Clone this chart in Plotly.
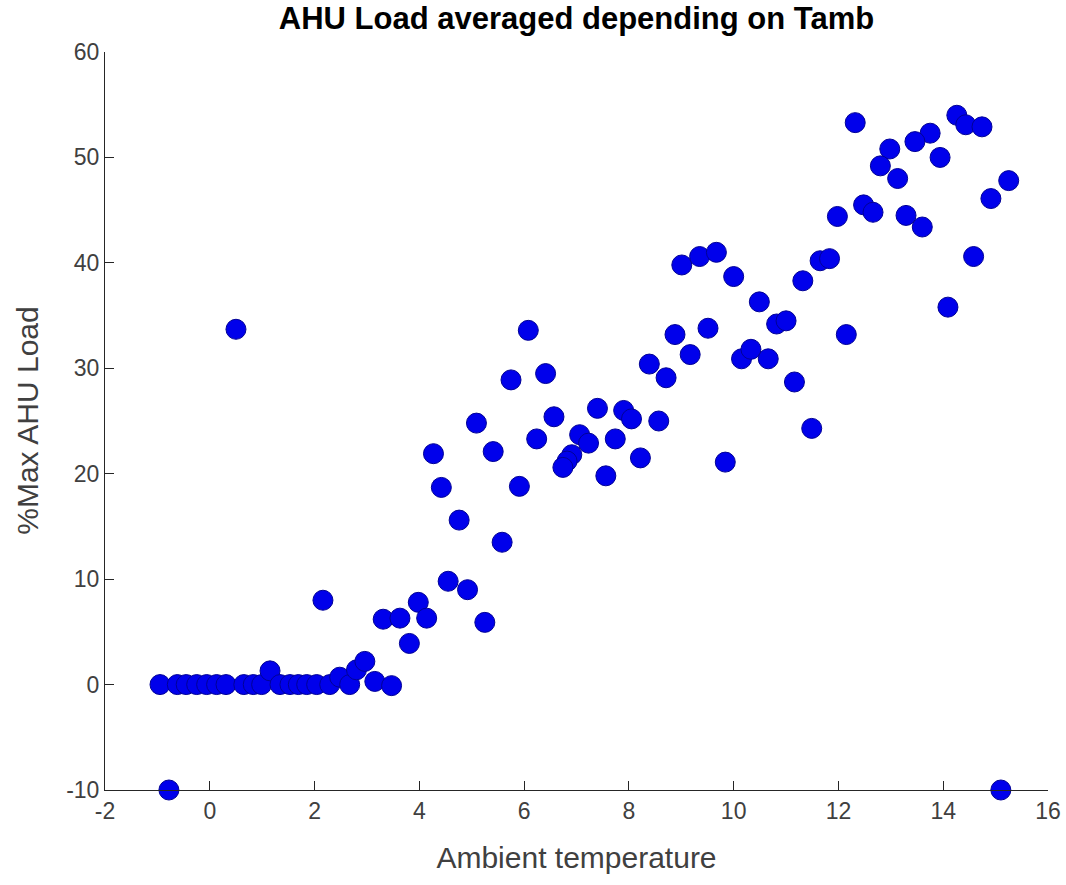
import plotly.graph_objects as go

# Ambient temperature (x) and %Max AHU load (y)
ambient_temp = [
    -0.95, -0.62, -0.45, -0.25, -0.06, 0.13, 0.31, 0.65, 0.83, 0.99,
    1.15, 1.34, 1.53, 1.69, 1.85, 2.04, 2.29, 2.48, 2.67, 2.80,
    2.96, 3.15, 3.47, 2.16, 3.31, 3.63, 3.98, 4.14, 3.81, 4.55,
    -0.78, 0.50, 15.10,
    6.08, 5.75, 6.41, 5.09, 6.57, 7.40, 7.90, 8.05, 8.57, 8.39,
    8.71, 8.88, 9.17, 9.51, 9.84, 4.27, 5.41, 6.24, 7.06, 7.23,
    7.74, 6.91, 6.82, 6.74, 7.56, 8.22, 4.42, 5.91, 4.76, 5.58,
    4.92, 5.25,
    9.01, 9.35, 9.67, 10.00, 11.98, 13.60, 14.58, 11.65, 11.83, 11.32,
    10.49, 10.82, 11.00, 14.09, 12.15, 10.15, 10.33, 10.66, 11.16, 11.49,
    12.32, 14.26, 14.43, 14.74, 13.75, 13.46, 12.98, 12.80, 13.94, 13.13,
    15.25, 14.91, 12.48, 12.66, 13.29,
]
ahu_load = [
    0.0, 0.0, 0.0, 0.0, 0.0, 0.0, 0.0, 0.0, 0.0, 0.0,
    1.3, 0.0, 0.0, 0.0, 0.0, 0.0, 0.0, 0.7, 0.0, 1.4,
    2.2, 0.3, -0.1, 8.0, 6.2, 6.3, 7.8, 6.3, 3.9, 9.8,
    -10.0, 33.7, -10.0,
    33.6, 28.9, 29.5, 24.8, 25.4, 26.2, 26.0, 25.2, 25.0, 30.4,
    29.1, 33.2, 31.3, 33.8, 21.1, 21.9, 22.1, 23.3, 23.7, 22.9,
    23.3, 21.8, 21.2, 20.6, 19.8, 21.5, 18.7, 18.8, 15.6, 13.5,
    9.0, 5.9,
    39.8, 40.6, 41.0, 38.7, 44.4, 43.4, 40.6, 40.2, 40.4, 38.3,
    36.3, 34.2, 34.5, 35.8, 33.2, 30.9, 31.8, 30.9, 28.7, 24.3,
    53.3, 54.0, 53.1, 52.9, 52.3, 51.5, 50.8, 49.2, 50.0, 48.0,
    47.8, 46.1, 45.5, 44.8, 44.5,
]

x_ticks = [-2, 0, 2, 4, 6, 8, 10, 12, 14, 16]
y_ticks = [-10, 0, 10, 20, 30, 40, 50, 60]

FONT = "Liberation Sans, Arial, sans-serif"

fig = go.Figure(
    go.Scatter(
        x=ambient_temp,
        y=ahu_load,
        mode="markers",
        marker=dict(size=20, color="rgb(0,0,235)",
                    line=dict(color="rgb(0,0,150)", width=1)),
        cliponaxis=False,
        hoverinfo="x+y",
    )
)

tick_font = dict(family=FONT, size=23, color="#404040")
label_font = dict(family=FONT, size=30, color="#404040")

fig.update_layout(
    width=1066,
    height=885,
    margin=dict(l=105, r=18, t=52, b=95),
    paper_bgcolor="white",
    plot_bgcolor="white",
    showlegend=False,
    font=dict(family=FONT),
    title=dict(
        text="<b>AHU Load averaged depending on Tamb</b>",
        x=0.5, xref="paper", xanchor="center",
        y=1.0, yref="container", yanchor="top",
        pad=dict(t=7),
        font=dict(family=FONT, size=31, color="black"),
    ),
    xaxis=dict(
        range=[-2, 16],
        tickvals=x_ticks,
        ticktext=[str(v) for v in x_ticks],
        ticks="inside", ticklen=9, tickwidth=1, tickcolor="#262626",
        showline=True, linecolor="#262626", linewidth=1, mirror=False,
        showgrid=False, zeroline=False, automargin=False,
        tickfont=tick_font,
        title=dict(text="Ambient temperature", standoff=24, font=label_font),
    ),
    yaxis=dict(
        range=[-10, 60],
        tickvals=y_ticks,
        ticktext=[str(v) for v in y_ticks],
        ticks="inside", ticklen=9, tickwidth=1, tickcolor="#262626",
        showline=True, linecolor="#262626", linewidth=1, mirror=False,
        showgrid=False, zeroline=False, automargin=False,
        tickfont=tick_font,
    ),
    annotations=[
        dict(
            text="%Max AHU Load",
            textangle=-90,
            xref="paper", yref="paper",
            x=-0.083, y=0.5,
            xanchor="center", yanchor="middle",
            showarrow=False,
            font=label_font,
        )
    ],
)

fig.write_html("out.html")
